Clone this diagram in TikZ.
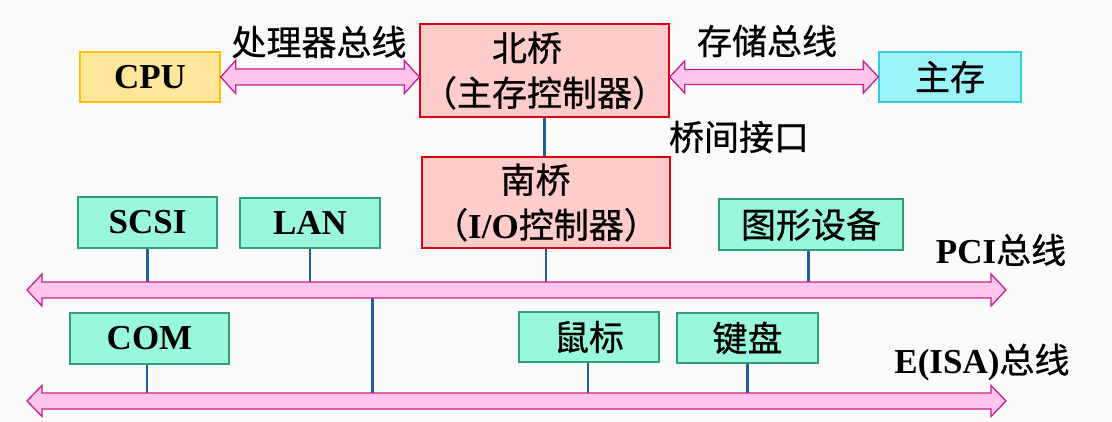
\documentclass[tikz,border=0pt]{standalone}
\usepackage{fontspec}
\setmainfont{Liberation Serif}
\newfontfamily\cjk[FakeBold=0.7]{Noto Sans CJK SC}
\usetikzlibrary{calc}
\definecolor{busfill}{HTML}{FFC4EA}
\definecolor{busline}{HTML}{C4208E}
\definecolor{devfill}{HTML}{99F7DC}
\definecolor{devline}{HTML}{2E9E7C}
\definecolor{cpufill}{HTML}{FFE699}
\definecolor{cpuline}{HTML}{FFC000}
\definecolor{memfill}{HTML}{99F3F7}
\definecolor{memline}{HTML}{33CCD6}
\definecolor{brfill}{HTML}{FFCCCC}
\definecolor{brline}{HTML}{DD0010}
\definecolor{connline}{HTML}{1F5F9E}
\newcommand{\busarrow}[4]{% left tip, right tip, head half, shaft half
  \draw[bus] let \p1=(#1), \p2=(#2) in
    (\x1,\y1) -- ++(15pt,#3) -- ++(0,#4-#3) -- (\x2-15pt,\y2+#4) -- ++(0,#3-#4)
    -- (\x2,\y2) -- ++(-15pt,-#3) -- ++(0,#3-#4) -- (\x1+15pt,\y1-#4) -- ++(0,#4-#3) -- cycle;}
\begin{document}
\begin{tikzpicture}[x=1pt,y=-1pt,
  txt/.style={font=\fontsize{35}{45}\selectfont, inner sep=0pt, align=center},
  box/.style={txt, draw, line width=1.3pt, minimum width=#1, minimum height=50pt},
  dev/.style={box=#1, fill=devfill, draw=devline},
  bridge/.style={txt, draw=brline, fill=brfill, line width=1.3pt, minimum width=248pt, minimum height=92pt},
  bus/.style={fill=busfill, draw=busline, line width=1.3pt, line join=miter},
  conn/.style={draw=connline, line width=2.4pt}]
\useasboundingbox (0,0) rectangle (1112,422);
\fill[white!98!black] (0,0) rectangle (1112,422);

% top row
\node[box=140pt, fill=cpufill, draw=cpuline] (cpu) at (150,77) {\bfseries CPU};
\node[bridge, minimum width=249pt, minimum height=93pt] (nb) at (544.5,70.5)
  {\cjk 北桥\hspace*{1em}\\ \cjk （主存控制器）};
\node[box=142pt, fill=memfill, draw=memline] (mem) at (950,77) {\cjk 主存};
\node[txt] (lproc) at (319,42) {\cjk 处理器总线};
\node[txt] (lmem) at (767,41) {\cjk 存储总线};
\node[txt] (lbr) at (739,137) {\cjk 桥间接口};

\busarrow{cpu.east}{nb.west |- cpu.east}{16.5pt}{8pt}
\busarrow{nb.east |- mem.west}{mem.west}{16pt}{7.5pt}

% south bridge
\node[bridge, minimum height=91pt] (sb) at (546,202.5)
  {\cjk 南桥\hspace*{0.6em}\\ {\cjk （}{\bfseries I/O}{\cjk 控制器）}};
\draw[conn] (nb.south) -- (nb.south |- sb.north);

% PCI devices
\node[dev=139pt, minimum height=51pt] (scsi) at (147.5,222.5) {\bfseries SCSI};
\node[dev=140pt] (lan) at (310,223) {\bfseries LAN};
\node[dev=184pt, minimum height=51pt] (gfx) at (811,224.5) {\cjk 图形设备};
\node[txt] (lpci) at (1001,250) {{\bfseries PCI}{\cjk 总线}};

% ISA devices
\node[dev=159pt, minimum height=51pt] (com) at (149.5,338.5) {\bfseries COM};
\node[dev=140pt] (mouse) at (589,337) {\cjk 鼠标};
\node[dev=141pt] (kbd) at (747.5,338) {\cjk 键盘};
\node[txt] (lisa) at (982,362) {{\bfseries E(ISA)}{\cjk 总线}};

% bus end points
\coordinate (pciL) at (27,290);
\coordinate (pciR) at (1006,290);
\coordinate (isaL) at (27,401);
\coordinate (isaR) at (1006,401);
\coordinate (pciTap) at (372.5,290);

% connectors
\draw[conn] (scsi.south) -- (scsi.south |- pciL);
\draw[conn] (lan.south) -- (lan.south |- pciL);
\draw[conn] (sb.south) -- (sb.south |- pciL);
\draw[conn] ([xshift=-2.5pt]gfx.south) -- ([xshift=-2.5pt]gfx.south |- pciL);
\draw[conn] ([xshift=-2.5pt]com.south) -- ([xshift=-2.5pt]com.south |- isaL);
\draw[conn] ([xshift=-1pt]mouse.south) -- ([xshift=-1pt]mouse.south |- isaL);
\draw[conn] (kbd.south) -- (kbd.south |- isaL);
\draw[conn] (pciTap) -- (pciTap |- isaL);

% buses
\busarrow{pciL}{pciR}{16pt}{8pt}
\busarrow{isaL}{isaR}{15.5pt}{8pt}
\end{tikzpicture}
\end{document}
